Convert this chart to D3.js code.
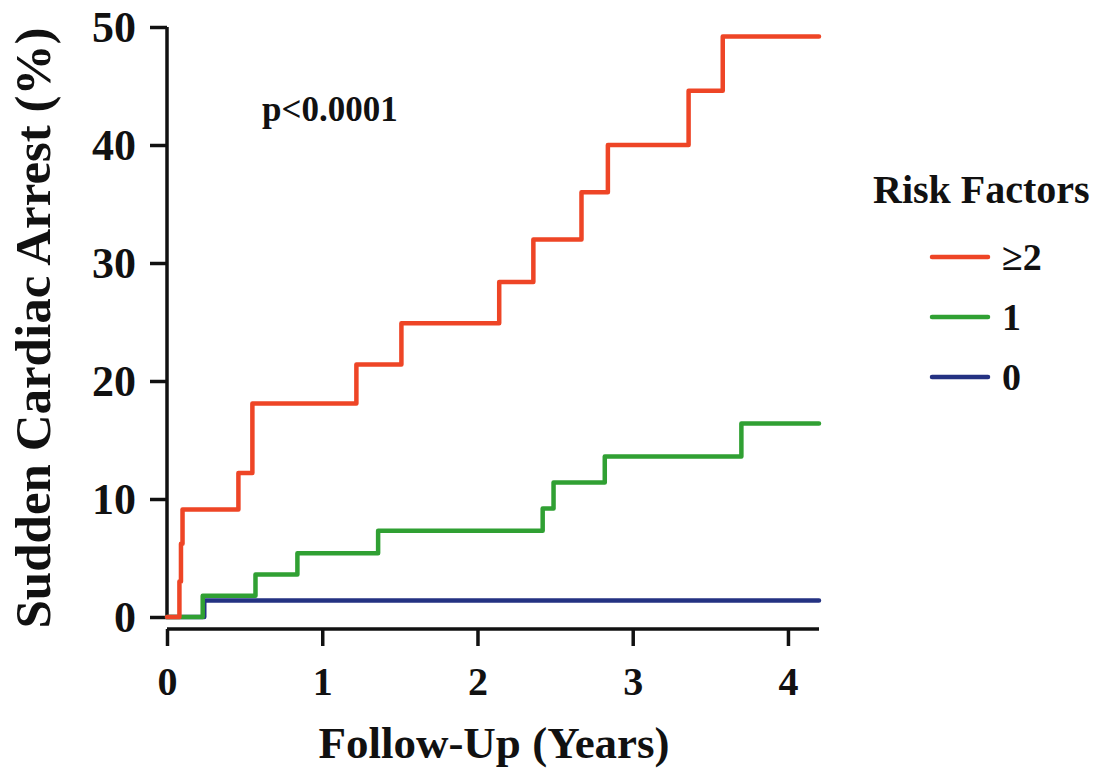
<!DOCTYPE html>
<html>
<head>
<meta charset="utf-8">
<script src="https://cdn.jsdelivr.net/npm/d3@7"></script>
<style>
  body { margin: 0; background: #fff; }
  svg text { font-family: "Liberation Serif", "Times New Roman", serif; font-weight: bold; fill: #111; }
</style>
</head>
<body>
<div id="chart"></div>
<script>
// Kaplan-Meier style cumulative incidence
const redTimes = [0, 0.08, 0.09, 0.10, 0.46, 0.55, 1.22, 1.51, 2.14, 2.36, 2.67, 2.84, 3.36, 3.58, 4.2];
const redValues = [0, 3.0, 6.2, 9.1, 12.2, 18.1, 21.4, 24.9, 28.4, 32.0, 36.0, 40.0, 44.6, 49.2, 49.2];
const greenTimes = [0, 0.23, 0.57, 0.84, 1.36, 2.42, 2.49, 2.82, 3.70, 4.2];
const greenValues = [0, 1.8, 3.6, 5.4, 7.3, 9.2, 11.4, 13.6, 16.4, 16.4];
const blueTimes = [0, 0.24, 4.2];
const blueValues = [0, 1.4, 1.4];

const xTicks = [0, 1, 2, 3, 4];
const yTicks = [0, 10, 20, 30, 40, 50];
const legendLabels = ['\u22652', '1', '0'];
const colors = ['#ee4526', '#30a033', '#243282'];

const width = 1102;
const height = 769;

const svg = d3.select('#chart')
    .append('svg')
    .attr('width', width)
    .attr('height', height);

const x = d3.scaleLinear().domain([0, 4.2]).range([167, 819]);
const y = d3.scaleLinear().domain([0, 50]).range([617, 27]);

// y axis
const yAxis = svg.append('g')
    .attr('transform', `translate(${x(0)},0)`)
    .call(d3.axisLeft(y).tickValues(yTicks).tickSize(17).tickPadding(14).tickFormat(d3.format('d')));
// x axis, detached below the plot
const xAxis = svg.append('g')
    .attr('transform', 'translate(0,629)')
    .call(d3.axisBottom(x).tickValues(xTicks).tickSize(17).tickPadding(21).tickFormat(d3.format('d')));

[yAxis, xAxis].forEach(ax => {
    ax.select('.domain').attr('stroke', '#111').attr('stroke-width', 3.5);
    ax.selectAll('.tick line').attr('stroke', '#111').attr('stroke-width', 3.5);
    ax.selectAll('.tick text')
        .attr('font-family', '"Liberation Serif", serif')
        .attr('font-weight', 'bold')
        .attr('fill', '#111');
});
yAxis.selectAll('.tick text').attr('font-size', 44);
xAxis.selectAll('.tick text').attr('font-size', 40);
// remove outer ticks
yAxis.select('.domain').attr('d', `M0,${y(50)}V${y(0)}`);
xAxis.select('.domain').attr('d', `M${x(0)},0H${x(4.2)}`);

const line = d3.line()
    .x(d => x(d[0]))
    .y(d => y(d[1]))
    .curve(d3.curveStepAfter);

const series = [
    { times: blueTimes, values: blueValues, color: colors[2] },
    { times: greenTimes, values: greenValues, color: colors[1] },
    { times: redTimes, values: redValues, color: colors[0] }
];

series.forEach(s => {
    svg.append('path')
        .datum(d3.zip(s.times, s.values))
        .attr('d', line)
        .attr('fill', 'none')
        .attr('stroke', s.color)
        .attr('stroke-width', 4.5)
        .attr('stroke-linejoin', 'round')
        .attr('stroke-linecap', 'round');
});

// axis titles
svg.append('text')
    .attr('transform', 'translate(50,328) rotate(-90)')
    .attr('text-anchor', 'middle')
    .attr('font-size', 51)
    .text('Sudden Cardiac Arrest (%)');

svg.append('text')
    .attr('x', 494)
    .attr('y', 758)
    .attr('text-anchor', 'middle')
    .attr('font-size', 45)
    .text('Follow-Up (Years)');

svg.append('text')
    .attr('x', 262)
    .attr('y', 121)
    .attr('font-size', 35)
    .text('p<0.0001');

// legend
svg.append('text')
    .attr('x', 873)
    .attr('y', 203)
    .attr('font-size', 40)
    .text('Risk Factors');

const legend = svg.append('g');
legendLabels.forEach((lab, i) => {
    const ly = 257 + i * 60;
    legend.append('line')
        .attr('x1', 932).attr('x2', 988)
        .attr('y1', ly).attr('y2', ly)
        .attr('stroke', colors[i])
        .attr('stroke-width', 4.5)
        .attr('stroke-linecap', 'round');
    legend.append('text')
        .attr('x', 1002)
        .attr('y', ly + 13)
        .attr('font-size', 38)
        .text(lab);
});
</script>
</body>
</html>
